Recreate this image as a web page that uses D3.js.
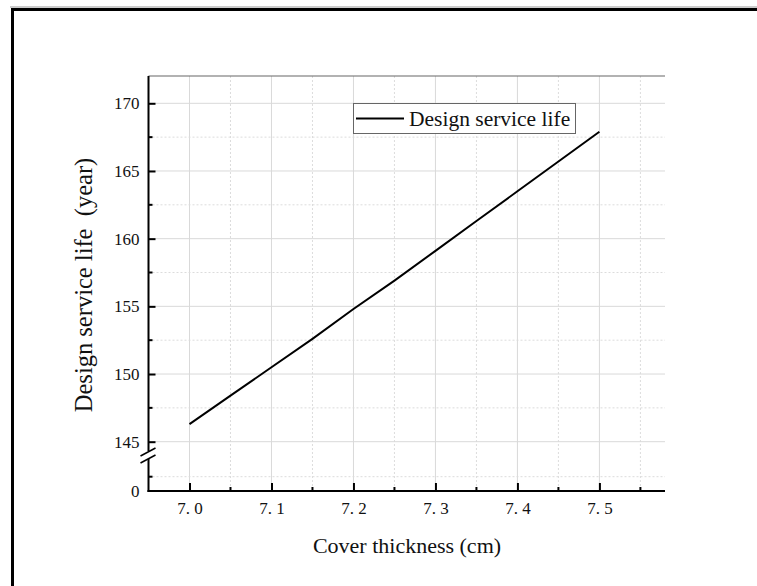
<!DOCTYPE html>
<html>
<head>
<meta charset="utf-8">
<script src="https://cdn.jsdelivr.net/npm/d3@7"></script>
<style>
  body { margin: 0; background: #fff; }
  text { font-family: "Times New Roman", "Liberation Serif", serif; fill: #111; }
</style>
</head>
<body>
<div id="chart"></div>
<script>
// data
let thickness = [7.0, 7.05, 7.1, 7.15, 7.2, 7.25, 7.3, 7.35, 7.4, 7.45, 7.5];
let serviceLife = [146.3, 148.4, 150.5, 152.6, 154.8, 156.9, 159.1, 161.3, 163.5, 165.7, 167.9];
let xTicks = [7.0, 7.1, 7.2, 7.3, 7.4, 7.5];
let xMinor = [7.05, 7.15, 7.25, 7.35, 7.45, 7.55];
let yTicks = [145, 150, 155, 160, 165, 170];
let yMinor = [147.5, 152.5, 157.5, 162.5, 167.5];
let yLowTicks = [0];
let yLowMinor = [2.5];
let seriesName = "Design service life";

let W = 757, H = 586;

let svg = d3.select("#chart")
    .append("svg")
    .attr("width", W)
    .attr("height", H);

// outer frame (screenshot border)
svg.append("line").attr("x1", 10).attr("x2", W).attr("y1", 7).attr("y2", 7)
    .attr("stroke", "#999").attr("stroke-width", 1);
svg.append("line").attr("x1", 11).attr("x2", W).attr("y1", 9.5).attr("y2", 9.5)
    .attr("stroke", "#000").attr("stroke-width", 3);
svg.append("line").attr("x1", 12.5).attr("x2", 12.5).attr("y1", 8).attr("y2", H)
    .attr("stroke", "#000").attr("stroke-width", 3);

// plot box
let pLeft = 148.5, pRight = 665, pTop = 76, pBottom = 491;

let x = d3.scaleLinear().domain([6.95, 7.58]).range([pLeft, pRight]);
// upper segment of the broken y axis
let y = d3.scaleLinear().domain([145, 170]).range([441.7, 103.3]);
// lower segment (just the zero)
let yLow = d3.scaleLinear().domain([0, 2.5]).range([pBottom, 476.7]);
let breakY = 456;

let grid = svg.append("g");

// vertical grid
grid.selectAll(".vmaj").data(xTicks).enter().append("line")
    .attr("x1", d => x(d)).attr("x2", d => x(d))
    .attr("y1", pTop).attr("y2", pBottom)
    .attr("stroke", "#d9d9d9").attr("stroke-width", 1);
grid.selectAll(".vmin").data(xMinor).enter().append("line")
    .attr("x1", d => x(d)).attr("x2", d => x(d))
    .attr("y1", pTop).attr("y2", pBottom)
    .attr("stroke", "#dcdcdc").attr("stroke-width", 1)
    .attr("stroke-dasharray", "2,2");

// horizontal grid
grid.selectAll(".hmaj").data(yTicks).enter().append("line")
    .attr("x1", pLeft).attr("x2", pRight)
    .attr("y1", d => y(d)).attr("y2", d => y(d))
    .attr("stroke", "#d9d9d9").attr("stroke-width", 1);
grid.selectAll(".hmin").data(yMinor).enter().append("line")
    .attr("x1", pLeft).attr("x2", pRight)
    .attr("y1", d => y(d)).attr("y2", d => y(d))
    .attr("stroke", "#dcdcdc").attr("stroke-width", 1)
    .attr("stroke-dasharray", "2,2");
grid.selectAll(".hlow").data(yLowMinor).enter().append("line")
    .attr("x1", pLeft).attr("x2", pRight)
    .attr("y1", d => yLow(d)).attr("y2", d => yLow(d))
    .attr("stroke", "#dcdcdc").attr("stroke-width", 1)
    .attr("stroke-dasharray", "2,2");

// top frame line
svg.append("line").attr("x1", pLeft).attr("x2", pRight).attr("y1", pTop).attr("y2", pTop)
    .attr("stroke", "#666").attr("stroke-width", 1.2);

// bottom x axis, ticks pointing inward
let xAxis = svg.append("g")
    .attr("transform", "translate(0," + pBottom + ")")
    .call(d3.axisBottom(x).tickValues(xTicks).tickSize(-8)
        .tickFormat(d => d3.format(".1f")(d).replace(".", ". ")));
xAxis.select(".domain").remove();
xAxis.selectAll(".tick line").attr("stroke", "#000").attr("stroke-width", 2);
xAxis.selectAll(".tick text").attr("dy", "0").attr("y", 23)
    .style("font-size", "17px").style("white-space", "pre");
svg.append("g").selectAll("line").data(xMinor).enter().append("line")
    .attr("x1", d => x(d)).attr("x2", d => x(d))
    .attr("y1", pBottom).attr("y2", pBottom - 4)
    .attr("stroke", "#000").attr("stroke-width", 2);
svg.append("line").attr("x1", pLeft - 1).attr("x2", pRight).attr("y1", pBottom).attr("y2", pBottom)
    .attr("stroke", "#000").attr("stroke-width", 2);

// left y axis (upper part)
let yAxis = svg.append("g")
    .attr("transform", "translate(" + pLeft + ",0)")
    .call(d3.axisLeft(y).tickValues(yTicks).tickSize(-7));
yAxis.select(".domain").remove();
yAxis.selectAll(".tick line").attr("stroke", "#000").attr("stroke-width", 2);
yAxis.selectAll(".tick text").attr("x", -9).style("font-size", "17px");
svg.append("g").selectAll("line").data(yMinor).enter().append("line")
    .attr("x1", pLeft).attr("x2", pLeft + 4)
    .attr("y1", d => y(d)).attr("y2", d => y(d))
    .attr("stroke", "#000").attr("stroke-width", 2);

// left y axis (lower part)
let yLowAxis = svg.append("g")
    .attr("transform", "translate(" + pLeft + ",0)")
    .call(d3.axisLeft(yLow).tickValues(yLowTicks).tickSize(0).tickFormat(d3.format("d")));
yLowAxis.select(".domain").remove();
yLowAxis.selectAll(".tick text").attr("x", -9).style("font-size", "17px");
svg.append("g").selectAll("line").data(yLowMinor).enter().append("line")
    .attr("x1", pLeft).attr("x2", pLeft + 4)
    .attr("y1", d => yLow(d)).attr("y2", d => yLow(d))
    .attr("stroke", "#000").attr("stroke-width", 2);

// axis spine with break
svg.append("line").attr("x1", pLeft).attr("x2", pLeft).attr("y1", pTop).attr("y2", breakY - 5)
    .attr("stroke", "#000").attr("stroke-width", 2);
svg.append("line").attr("x1", pLeft).attr("x2", pLeft).attr("y1", breakY + 3).attr("y2", pBottom + 1)
    .attr("stroke", "#000").attr("stroke-width", 2);
svg.append("rect").attr("x", pLeft - 8).attr("y", breakY - 5).attr("width", 16).attr("height", 8)
    .attr("fill", "#fff");
[-4, 3].forEach(function(off) {
    svg.append("line")
        .attr("x1", pLeft - 8).attr("x2", pLeft + 7)
        .attr("y1", breakY + off + 4).attr("y2", breakY + off - 4)
        .attr("stroke", "#000").attr("stroke-width", 1.5);
});

// data line
let data = thickness.map((t, i) => ({t: t, v: serviceLife[i]}));
svg.append("path")
    .datum(data)
    .attr("fill", "none")
    .attr("stroke", "#000")
    .attr("stroke-width", 2)
    .attr("d", d3.line()
        .x(d => x(d.t))
        .y(d => y(d.v)));

// legend
let legend = svg.append("g");
legend.append("rect")
    .attr("x", 353.5).attr("y", 103.5).attr("width", 222).attr("height", 30)
    .attr("fill", "#fff").attr("stroke", "#666").attr("stroke-width", 1);
legend.append("line")
    .attr("x1", 356).attr("x2", 404).attr("y1", 118.5).attr("y2", 118.5)
    .attr("stroke", "#000").attr("stroke-width", 2);
legend.append("text")
    .attr("x", 409).attr("y", 126)
    .style("font-size", "21.5px")
    .text(seriesName);

// axis titles
svg.append("text")
    .attr("x", 407).attr("y", 553)
    .attr("text-anchor", "middle")
    .style("font-size", "22px")
    .text("Cover thickness (cm)");

svg.append("text")
    .attr("transform", "translate(92,285) rotate(-90)")
    .attr("text-anchor", "middle")
    .style("font-size", "24.5px")
    .style("white-space", "pre")
    .attr("xml:space", "preserve")
    .text("Design service life  (year)");
</script>
</body>
</html>
